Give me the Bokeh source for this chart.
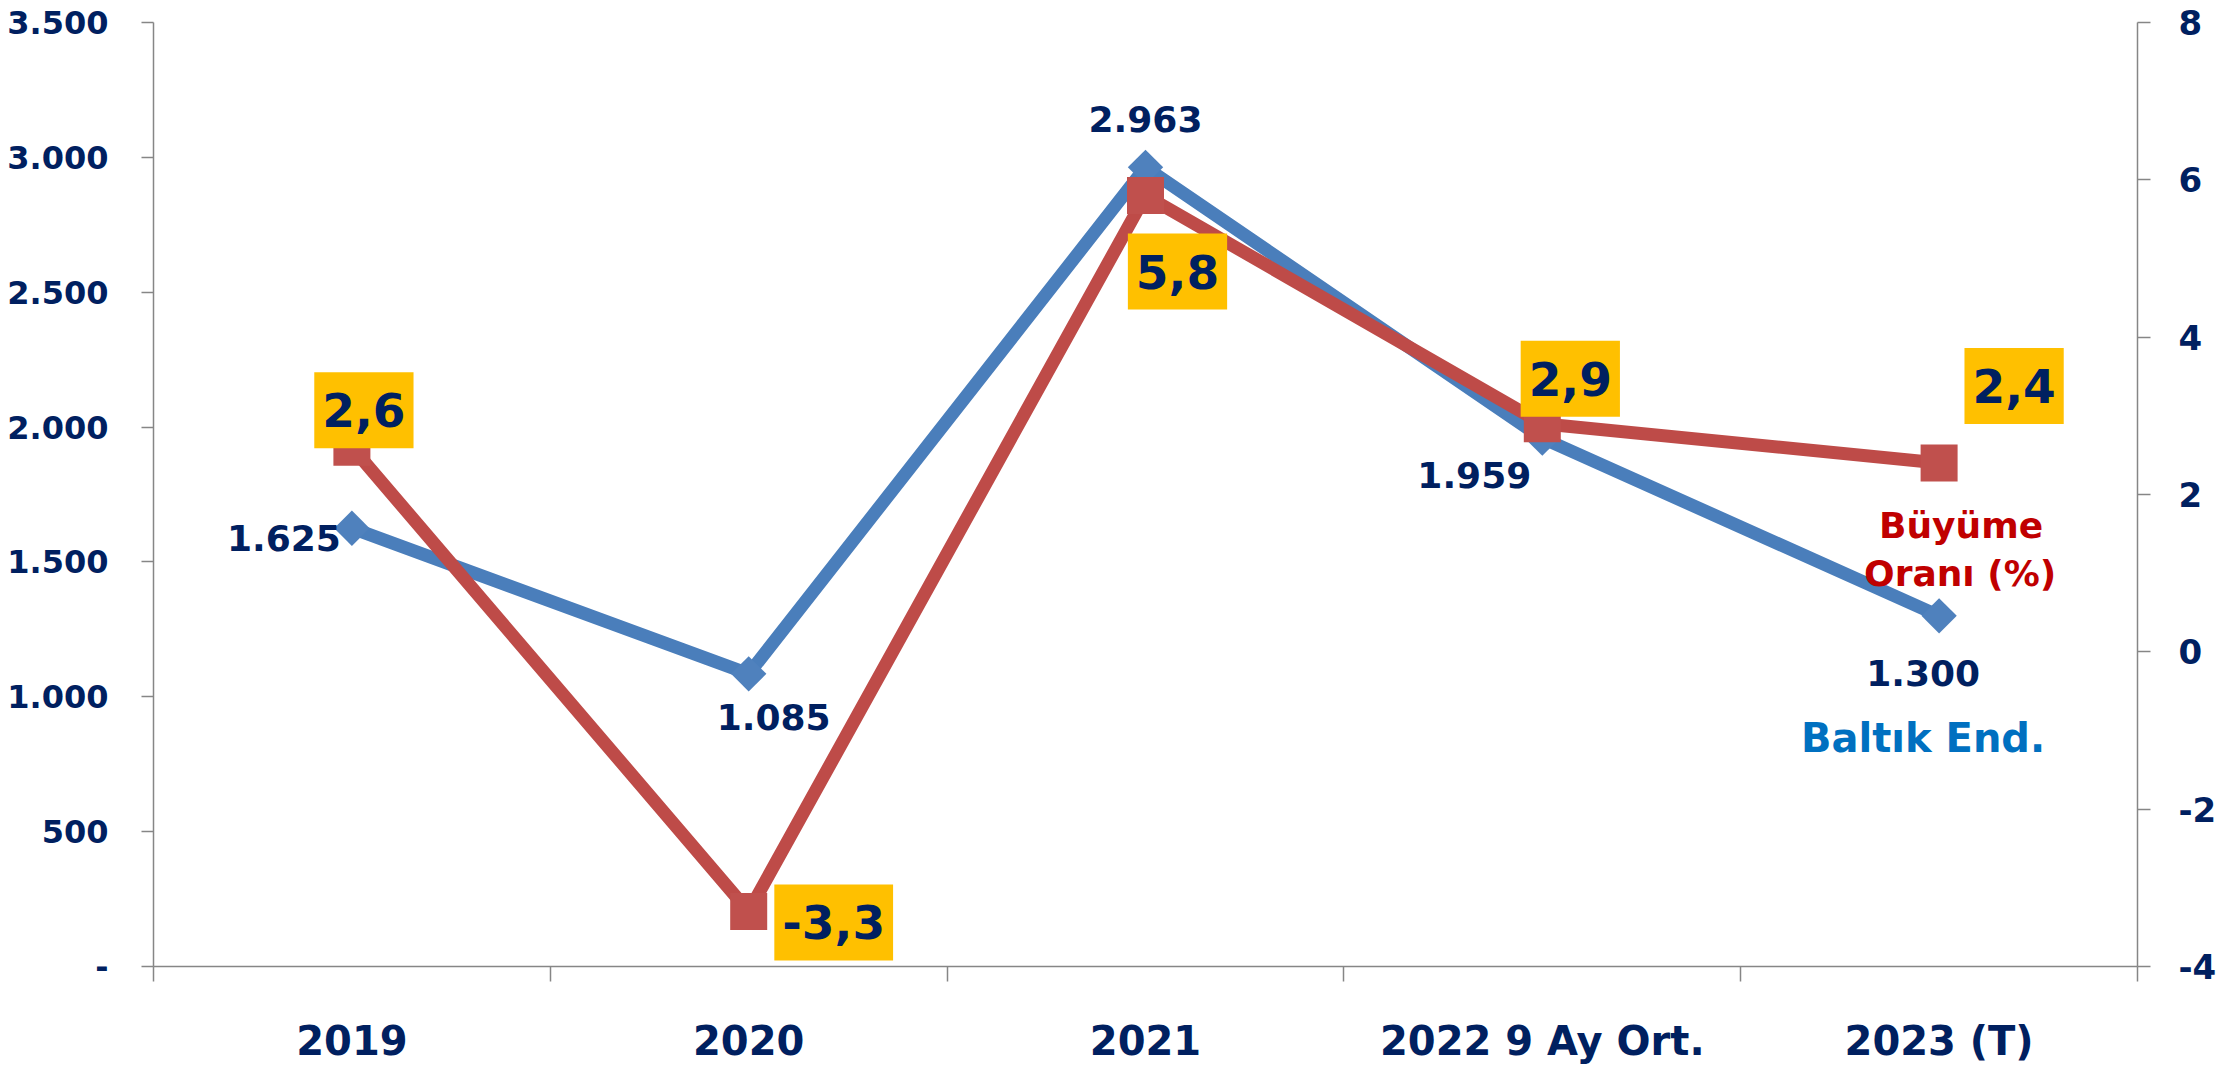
import numpy as np
from bokeh.plotting import figure
from bokeh.models import Range1d, LinearAxis, FixedTicker, ColumnDataSource
from bokeh.core.properties import value
from bokeh.embed import file_html
from bokeh.resources import INLINE

# ---- data ----
categories = ["2019", "2020", "2021", "2022 9 Ay Ort.", "2023 (T)"]
baltic_index = [1625, 1085, 2963, 1959, 1300]
baltic_labels = ["1.625", "1.085", "2.963", "1.959", "1.300"]
growth_rate = [2.6, -3.3, 5.8, 2.9, 2.4]
growth_labels = ["2,6", "-3,3", "5,8", "2,9", "2,4"]
left_ticks = [0, 500, 1000, 1500, 2000, 2500, 3000, 3500]
right_ticks = [-4, -2, 0, 2, 4, 6, 8]
series_names = ["Baltık End.", "Büyüme", "Oranı (%)"]

# ---- label placement (screen pixel offsets from their points) ----
baltic_dx = [-68, 25, 0, -68, -16]
baltic_dy = [10, 43, -48, 37, 57]
growth_dx = [12, 85, 32, 28, 75]
growth_dy = [-37, 11, 76, -45, -77]

NAVY = "#002060"
GRAY = "#868686"
FONT = value("DejaVu Sans")

xs = [i + 0.5 for i in range(len(categories))]

def fmt_left(v):
    return "-" if v == 0 else f"{v:,}".replace(",", ".")

p = figure(width=2238, height=1066, x_range=Range1d(0, len(categories)),
           y_range=Range1d(left_ticks[0], left_ticks[-1]),
           output_backend="svg", toolbar_location=None,
           min_border_left=153, min_border_right=101,
           min_border_top=22, min_border_bottom=89)
p.extra_y_ranges = {"right": Range1d(right_ticks[0], right_ticks[-1])}
p.outline_line_color = None
p.xgrid.visible = False
p.ygrid.visible = False
p.background_fill_color = "white"
p.border_fill_color = "white"

# x axis: labels at category centres, tick marks at category boundaries
xa = p.xaxis[0]
xa.ticker = FixedTicker(ticks=xs, minor_ticks=list(range(len(categories) + 1)))
xa.major_label_overrides = {x: c for x, c in zip(xs, categories)}
xa.major_tick_line_color = None
xa.major_tick_out = 0
xa.major_tick_in = 0
xa.minor_tick_out = 15
xa.minor_tick_in = 0
xa.minor_tick_line_color = GRAY
xa.minor_tick_line_width = 1.5
xa.axis_line_color = GRAY
xa.axis_line_width = 1.5
xa.major_label_standoff = 36
xa.major_label_text_font = "DejaVu Sans"
xa.major_label_text_font_style = "bold"
xa.major_label_text_font_size = "40px"
xa.major_label_text_color = NAVY

ya = p.yaxis[0]
ya.ticker = FixedTicker(ticks=left_ticks, minor_ticks=[])
ya.major_label_overrides = {t: fmt_left(t) for t in left_ticks}
ya.major_tick_out = 12
ya.major_tick_in = 0
ya.major_tick_line_color = GRAY
ya.major_tick_line_width = 1.5
ya.minor_tick_line_color = None
ya.axis_line_color = GRAY
ya.axis_line_width = 1.5
ya.major_label_standoff = 33
ya.major_label_text_font = "DejaVu Sans"
ya.major_label_text_font_style = "bold"
ya.major_label_text_font_size = "32px"
ya.major_label_text_color = NAVY

ra = LinearAxis(y_range_name="right", ticker=FixedTicker(ticks=right_ticks, minor_ticks=[]))
ra.major_label_overrides = {t: str(t) for t in right_ticks}
ra.major_tick_out = 13
ra.major_tick_in = 0
ra.major_tick_line_color = GRAY
ra.major_tick_line_width = 1.5
ra.minor_tick_line_color = None
ra.axis_line_color = GRAY
ra.axis_line_width = 1.5
ra.major_label_standoff = 28
ra.major_label_text_font = "DejaVu Sans"
ra.major_label_text_font_style = "bold"
ra.major_label_text_font_size = "34px"
ra.major_label_text_color = NAVY
p.add_layout(ra, "right")

bsrc = ColumnDataSource(dict(x=xs, y=baltic_index, t=baltic_labels, dx=baltic_dx, dy=baltic_dy))
gsrc = ColumnDataSource(dict(x=xs, y=growth_rate, t=growth_labels, dx=growth_dx, dy=growth_dy))

p.line("x", "y", source=bsrc, line_color="#4A7EBB", line_width=13)
p.scatter("x", "y", source=bsrc, marker="square", angle=np.pi / 4, size=25,
          fill_color="#4F81BD", line_color=None)
p.line("x", "y", source=gsrc, y_range_name="right", line_color="#BE4B48", line_width=13)
p.scatter("x", "y", source=gsrc, y_range_name="right", marker="square", size=37,
          fill_color="#C0504D", line_color=None)

p.text("x", "y", text="t", source=bsrc, x_offset="dx", y_offset="dy",
       text_align="center", text_baseline="middle", text_font=FONT,
       text_font_style="bold", text_font_size="36px", text_color=NAVY)

p.text("x", "y", text="t", source=gsrc, y_range_name="right", x_offset="dx", y_offset="dy",
       text_align="center", text_baseline="middle", text_font=FONT,
       text_font_style="bold", text_font_size="47px", text_color=NAVY,
       background_fill_color="#FFC000",
       padding=dict(left=8, right=8, top=21, bottom=21))

# series name labels near the last points
p.text(x=[xs[-1]], y=[baltic_index[-1]], text=[series_names[0]],
       x_offset=[-16], y_offset=[122], text_align="center", text_baseline="middle",
       text_font=FONT, text_font_style="bold", text_font_size="40px", text_color="#0070C0")
p.text(x=[xs[-1]] * 2, y=[growth_rate[-1]] * 2, text=series_names[1:],
       x_offset=[22, 21], y_offset=[62, 110], y_range_name="right",
       text_align="center", text_baseline="middle",
       text_font=FONT, text_font_style="bold", text_font_size="36px", text_color="#C00000")

open("out.html", "w").write(file_html(p, INLINE))
